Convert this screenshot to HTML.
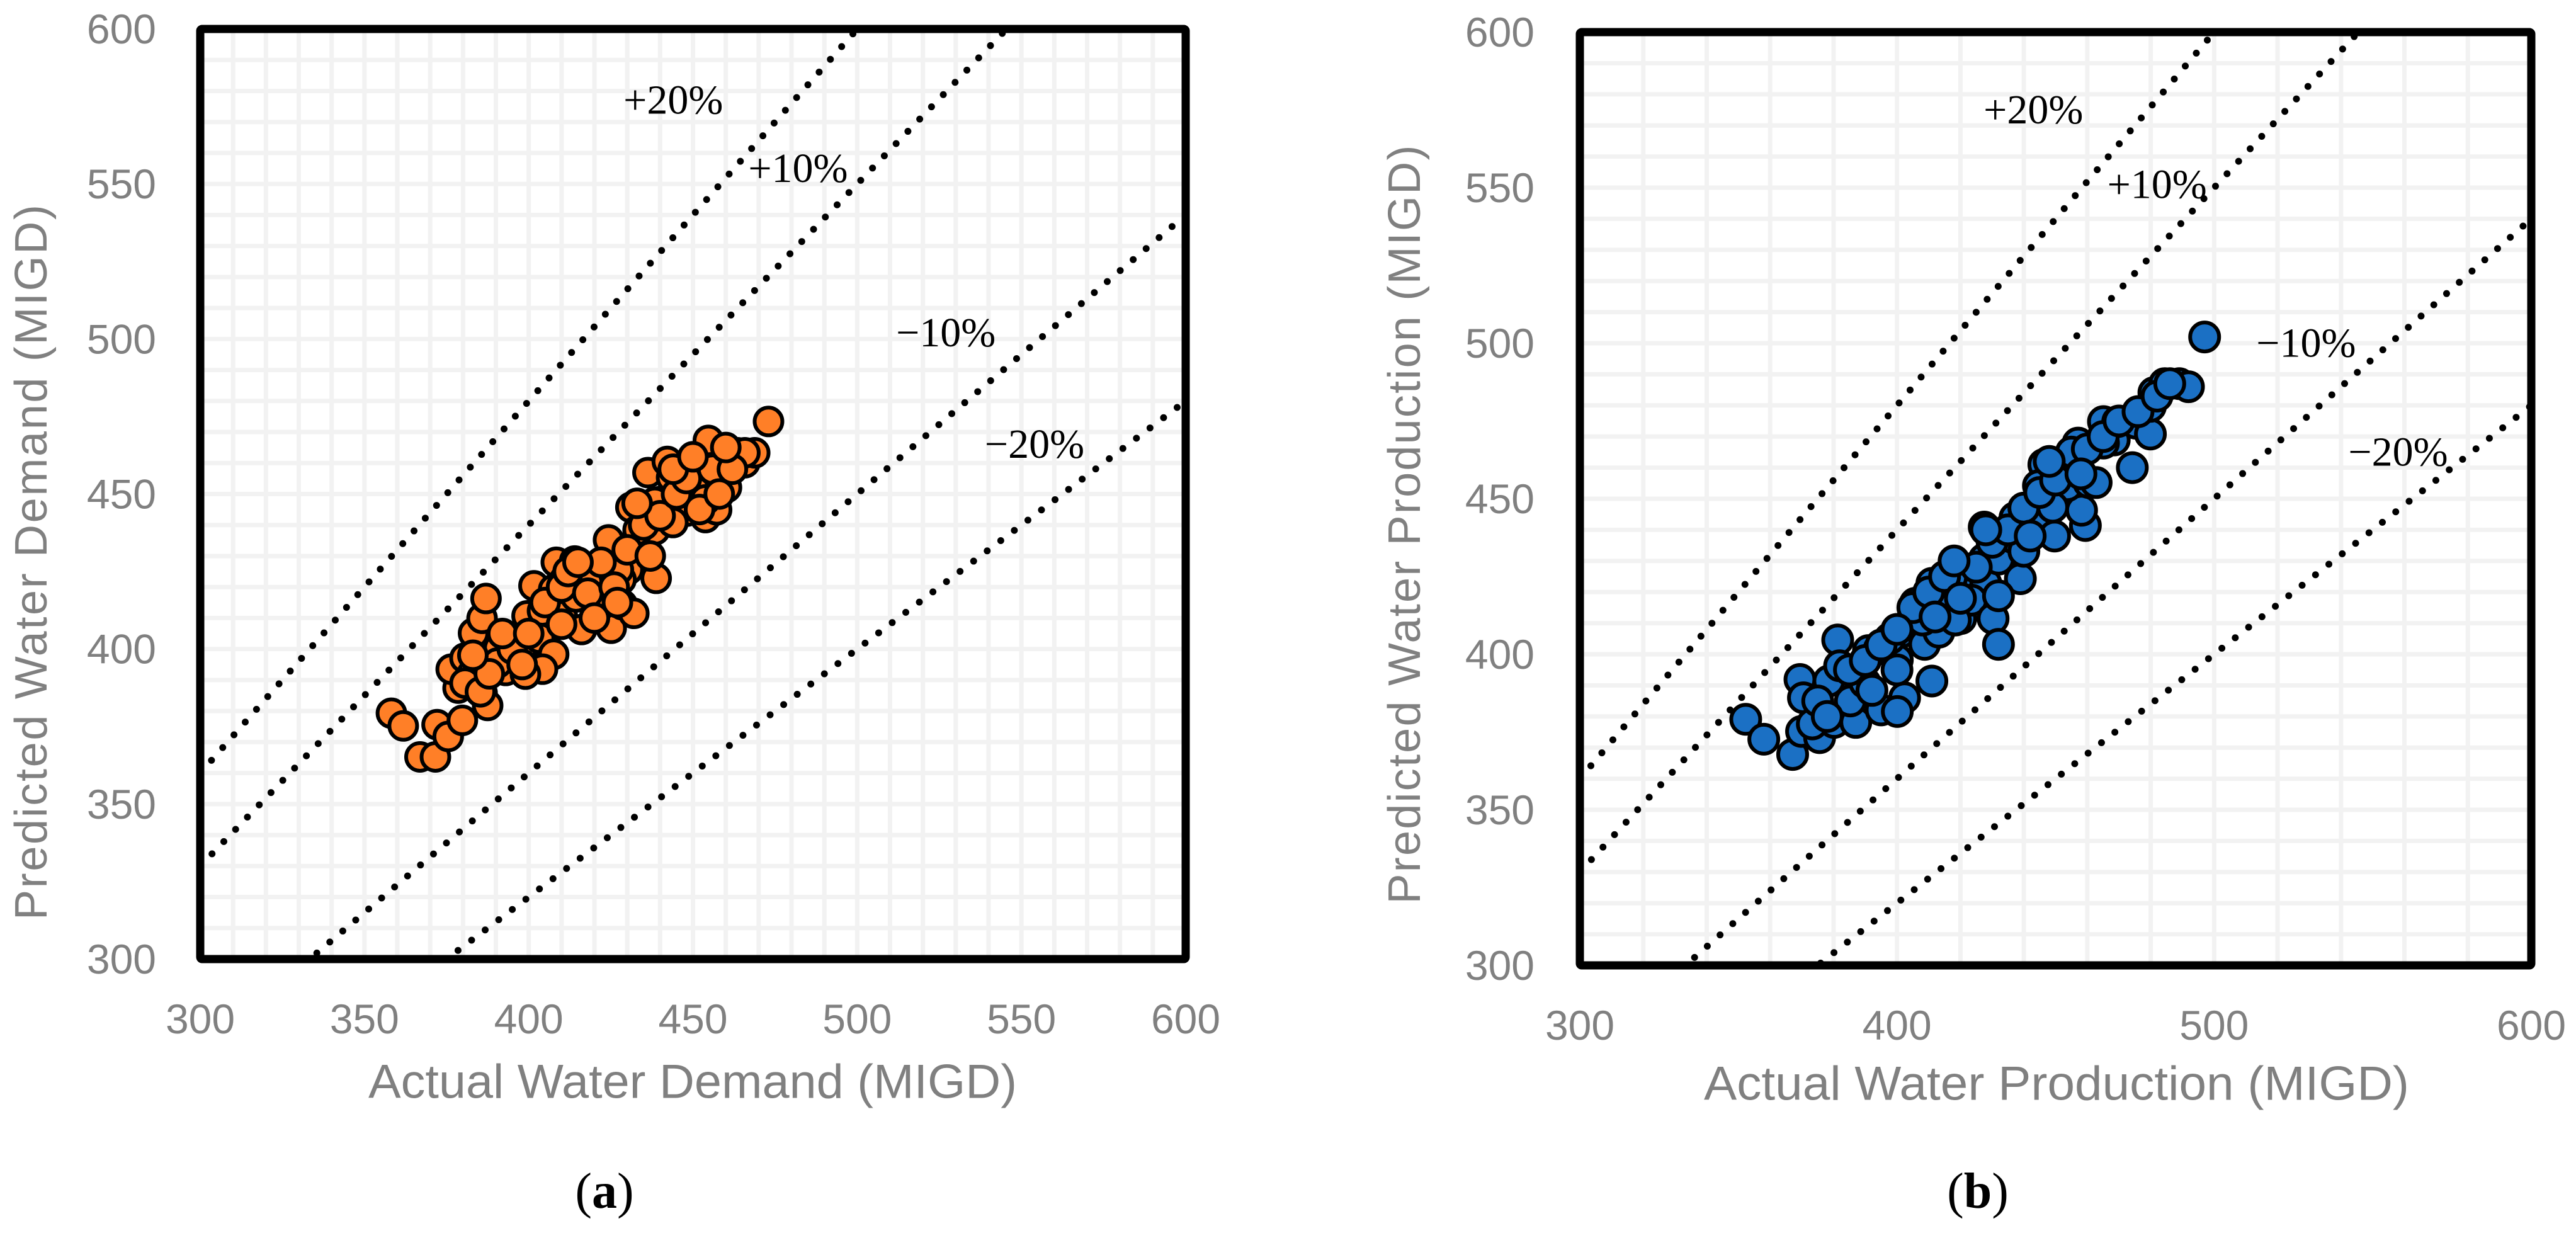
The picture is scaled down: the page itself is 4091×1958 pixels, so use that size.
<!DOCTYPE html>
<html><head><meta charset="utf-8"><style>
html,body{margin:0;padding:0;background:#fff;}
svg{display:block;}
</style></head><body>
<svg id="fig" width="4091" height="1958" viewBox="0 0 4091 1958" xmlns="http://www.w3.org/2000/svg"></svg>
<script>
// ---------- data ----------
const demandActual = [358.2,361.8,366.9,371.6,372.1,375.5,379.8,378.5,376.4,380.6,382.8,385.8,387.5,383.2,385.8,387.0,390.9,393.0,395.2,397.7,402.9,403.3,407.6,399.5,401.6,408.0,410.2,408.4,414.0,416.1,417.0,423.0,424.3,425.1,428.5,432.0,430.3,438.8,433.7,431.1,438.4,440.5,436.3,442.2,445.7,450.8,453.4,454.7,460.2,465.8,468.8,463.6,473.0,449.1,448.2,453.8,457.2,421.3,414.4,404.2,380.6,385.3,390.5,399.0,404.2,411.0,417.9,428.1,438.4,443.9,433.3,443.5,453.8,465.8,427.3,407.6,
  405,410,412,418,420,422,426,430,435,440,445,448,452,456,458,462,395,398,388,392,410,415,427,433,437,444,450,460,383,400];
const demandPredicted = [379.3,375.2,365.2,365.2,375.6,371.8,377.0,387.4,393.5,397.1,391.9,385.8,381.8,405.1,409.9,416.3,400.3,393.1,403.5,397.9,393.9,403.5,398.3,410.7,420.4,417.2,410.7,428.0,428.4,406.3,416.8,424.8,435.2,406.7,414.3,411.5,425.6,422.8,434.4,445.7,438.4,447.7,456.9,460.5,444.1,450.9,461.3,467.3,452.1,460.1,463.3,463.3,473.4,460.1,444.5,442.4,444.9,413.5,416.8,393.5,389.0,386.2,395.5,391.9,412.3,422.4,421.6,422.4,447.3,440.8,438.4,455.3,448.1,463.3,425.6,419.2,
  415,420,425,418,410,428,420,432,440,443,450,455,445,458,450,458,400,395,392,405,408,428,415,447,430,458,462,465,398,405];
const prodActual = [352.3,358.0,367.1,369.9,369.4,370.5,375.6,378.5,381.3,380.2,387.0,385.3,386.4,389.9,391.0,394.4,395.0,400.1,402.4,401.3,405.2,405.8,408.7,411.0,411.0,414.9,413.2,420.1,420.1,428.0,423.5,430.3,432.0,427.5,432.0,438.9,427.5,436.6,437.2,440.0,445.7,449.7,446.3,459.4,458.2,453.7,446.3,450.3,455.8,460.5,462.8,457.1,465.1,468.5,474.2,475.3,479.9,479.9,481.0,484.4,489.0,491.9,497.0,444.6,453.1,465.1,418.4,408.1,397.8,392.1,381.9,373.3,400.1,417.2,432.0,449.1,469.6,
  405,410,415,420,425,430,435,440,445,450,455,460,465,470,385,390,395,400,375,378,412,418,428,442,448,458,476,482,486,400];
const prodPredicted = [379.1,372.7,367.8,375.2,391.9,386.0,373.2,391.4,404.6,378.1,378.1,385.0,394.8,390.9,401.2,401.7,382.1,398.2,386.0,407.1,410.0,416.4,403.2,391.4,422.8,416.9,407.1,411.5,423.8,422.8,417.4,411.5,403.2,430.6,430.6,424.3,440.9,437.5,443.9,433.1,444.8,438.0,452.7,441.4,446.3,454.2,461.0,461.0,462.0,455.2,455.2,467.9,474.8,468.9,460.0,474.3,470.8,479.7,484.1,487.0,487.0,486.0,502.0,454.2,461.0,467.9,411.0,411.0,405.1,388.4,396.3,377.6,381.6,424.7,418.8,447.3,474.8,
  415,420,425,418,428,436,440,447,452,456,465,466,470,475,395,398,403,408,385,380,412,430,440,438,462,458,478,483,487,395];
const errorBands = [1.2, 1.1, 0.9, 0.8];
const bandLabels = ["+20%", "+10%", "\u221210%", "\u221220%"];
const labelPosA = [[444,577],[482,555],[527,502],[554,466]];
const labelPosB = [[443,575],[482,551],[529,500],[558,465]];
const yTicks = [300,350,400,450,500,550,600];
const xTicksA = [300,350,400,450,500,550,600];
const xTicksB = [300,400,500,600];

const NS = "http://www.w3.org/2000/svg";
const svg = document.getElementById('fig');
function mk(tag, attrs, parent){
  const e = document.createElementNS(NS, tag);
  for (const k in attrs) e.setAttribute(k, attrs[k]);
  (parent||svg).appendChild(e);
  return e;
}

function panel(o){
  const g = mk('g', {});
  
  
  const sx = v => o.L + (v-300)/300*(o.R-o.L);
  const sy = v => o.B - (v-300)/300*(o.B-o.T);
  const clipId = o.name + '-clip';
  const cp = mk('clipPath', {id: clipId}, g);
  mk('rect', {x:o.L, y:o.T, width:o.R-o.L, height:o.B-o.T}, cp);
  const grid = mk('g', {stroke:'#f2f2f2','stroke-width':7}, g);
  
  
  for (let v=300+o.gx; v<600; v+=o.gx) mk('line',{x1:sx(v),x2:sx(v),y1:o.T,y2:o.B},grid);
  for (let v=310; v<600; v+=10) mk('line',{x1:o.L,x2:o.R,y1:sy(v),y2:sy(v)},grid);
  const lines = mk('g', {'clip-path':'url(#'+clipId+')'}, g);
  errorBands.forEach((f,i)=>{
    const l = mk('line',{x1:sx(300),y1:sy(300*f),x2:sx(600),y2:sy(600*f),stroke:'#000','stroke-width':11,'stroke-linecap':'round','stroke-dasharray':'0 27'},lines);
    
    
  });
  const pts = mk('g', {}, g);
  
  
  o.xs.forEach((xv,i)=>{
    const c = mk('circle',{cx:sx(xv),cy:sy(o.ys[i]),r:o.r,fill:o.color,stroke:'#000','stroke-width':6},pts);
    
    
  });
  bandLabels.forEach((t,i)=>{
    const p = o.labelPos[i];
    const tx = mk('text',{x:sx(p[0]),y:sy(p[1]),'text-anchor':'middle','dominant-baseline':'central','font-family':'"Liberation Serif", serif','font-size':66,fill:'#000'},g);
    tx.textContent = t;
    
    
  });
  const fr = mk('rect',{x:o.L,y:o.T,width:o.R-o.L,height:o.B-o.T,fill:'none',stroke:'#000','stroke-width':13,rx:3},g);
  
  
  yTicks.forEach(v=>{
    const t = mk('text',{x:o.yLabX,y:sy(v),'text-anchor':'end','dominant-baseline':'central','font-family':'"Liberation Sans", sans-serif','font-size':66,fill:'#808080'},g);
    t.textContent = v;
    
    
  });
  o.xTicks.forEach(v=>{
    const t = mk('text',{x:sx(v),y:o.xLabY,'text-anchor':'middle','dominant-baseline':'central','font-family':'"Liberation Sans", sans-serif','font-size':66,fill:'#808080'},g);
    t.textContent = v;
    
    
  });
  const xt = mk('text',{x:o.xTitle[0],y:o.xTitle[1],'text-anchor':'middle','dominant-baseline':'central','font-family':'"Liberation Sans", sans-serif','font-size':76,fill:'#808080',textLength:o.xTitle[2],lengthAdjust:'spacingAndGlyphs'},g);
  xt.textContent = o.xTitleText;
  
  
  const yt = mk('text',{x:0,y:0,transform:'translate('+o.yTitle[0]+','+o.yTitle[1]+') rotate(-90)','text-anchor':'middle','dominant-baseline':'central','font-family':'"Liberation Sans", sans-serif','font-size':72,fill:'#808080',textLength:o.yTitle[2],lengthAdjust:'spacing'},g);
  yt.textContent = o.yTitleText;
  
  
  const cap = mk('text',{x:o.cap[0],y:o.cap[1],'text-anchor':'middle','dominant-baseline':'central','font-family':'"Liberation Serif", serif','font-size':80,fill:'#000'},g);
  cap.innerHTML = '(<tspan font-weight="bold">'+o.capLetter+'</tspan>)';
  
  
}

panel({name:'panel-a', L:318, R:1883, T:46, B:1523, gx:10, r:22, color:'#ff7f27',
  xs:demandActual, ys:demandPredicted, labelPos:labelPosA, xTicks:xTicksA,
  yLabX:248, xLabY:1618, xTitle:[1100,1718,1030], xTitleText:'Actual Water Demand  (MIGD)',
  yTitle:[50,893,1136], yTitleText:'Predicted Water Demand  (MIGD)', cap:[960,1892], capLetter:'a'});
panel({name:'panel-b', L:2509, R:4020, T:51, B:1533, gx:20, r:23, color:'#1b70c4',
  xs:prodActual, ys:prodPredicted, labelPos:labelPosB, xTicks:xTicksB,
  yLabX:2437, xLabY:1628, xTitle:[3266,1721,1120], xTitleText:'Actual  Water Production (MIGD)',
  yTitle:[2231,833,1205], yTitleText:'Predicted Water Production (MIGD)', cap:[3141,1892], capLetter:'b'});
</script>
</body></html>
